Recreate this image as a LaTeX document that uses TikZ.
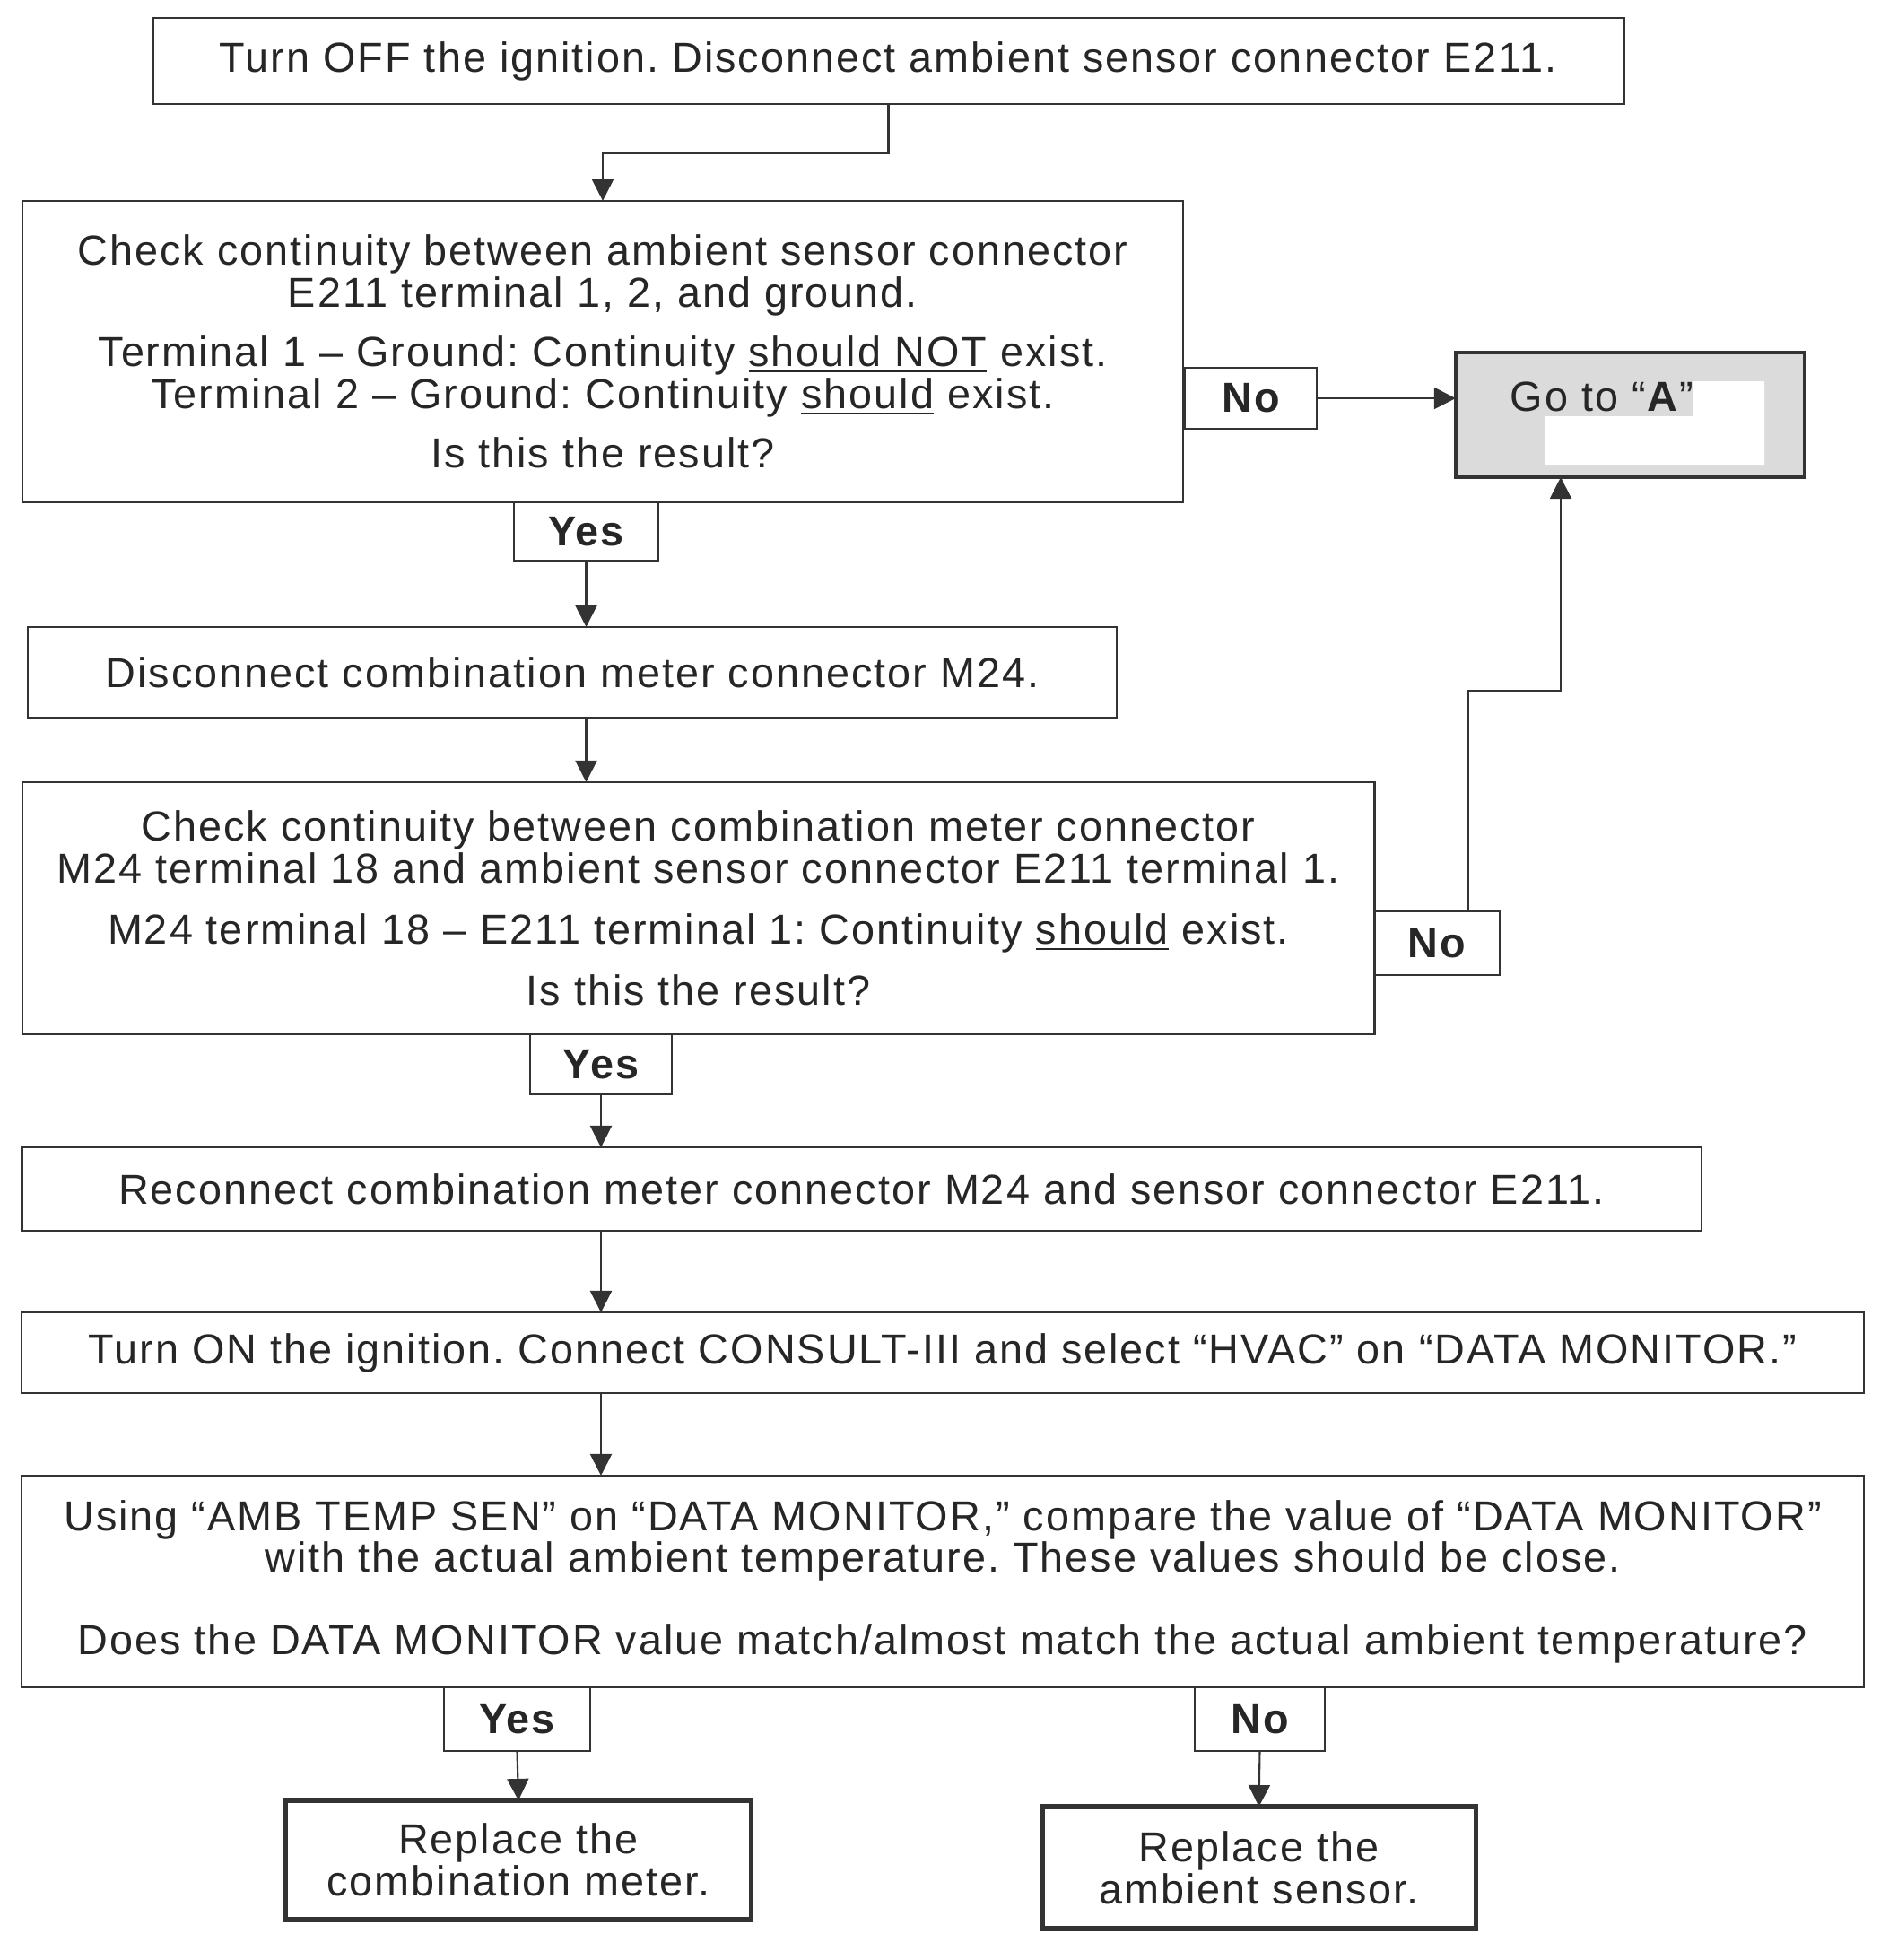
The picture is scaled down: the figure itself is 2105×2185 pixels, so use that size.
\documentclass[tikz,border=0pt]{standalone}
\usepackage{fontspec}
\setmainfont{Liberation Sans}[LetterSpace=4.3]
\usepackage{tikz}
\usetikzlibrary{arrows.meta,calc}
\definecolor{inkgray}{gray}{0.2}
\definecolor{boxfill}{gray}{0.86}
\frenchspacing
\begin{document}
\begin{tikzpicture}[x=0.01cm,y=-0.01cm,
  every node/.style={font=\fontsize{13.3pt}{13.3pt}\selectfont, text=black!85},
  box/.style={draw=inkgray, line width=0.6pt, inner sep=0pt, outer sep=0pt, align=center},
  endbox/.style={box, line width=1.5pt},
  answer/.style={box, font=\fontsize{13.3pt}{13.3pt}\selectfont\bfseries},
  flow/.style={draw=inkgray, line width=0.6pt, -{Triangle[length=0.24cm,width=0.24cm]}}]
\useasboundingbox (0,0) rectangle (2105,2185);
\node[box, minimum width=16.39cm, minimum height=0.96cm] (b1) at (990.5,68) {Turn OFF the ignition. Disconnect ambient sensor connector E211.};
\node[box, minimum width=12.94cm, minimum height=3.36cm] (b2) at (672,392) {Check continuity between ambient sensor connector\\E211 terminal 1, 2, and ground.\\[5.5pt]Terminal 1 – Ground: Continuity \underline{should NOT} exist.\\Terminal 2 – Ground: Continuity \underline{should} exist.\\[5.5pt]Is this the result?};
\node[answer, minimum width=1.47cm, minimum height=0.68cm] (no1) at (1394.5,444) {No};
\node[endbox, line width=1.3pt, fill=boxfill, minimum width=3.89cm, minimum height=1.39cm] (goA) at (1817.5,462.5) {};
\fill[white] (1888,425) -- (1967,425) -- (1967,518) -- (1723,518) -- (1723,464) -- (1888,464) -- cycle;
\node[anchor=west, inner sep=0pt] (goAtext) at (1683,442) {Go to “\textbf{A}”};
\node[answer, minimum width=1.61cm, minimum height=0.65cm] (yes1) at (653.5,592.5) {Yes};
\node[box, minimum width=12.14cm, minimum height=1.01cm] (b3) at (638,749.5) {Disconnect combination meter connector M24.};
\node[box, minimum width=15.07cm, minimum height=2.81cm] (b4) at (778.5,1012.5) {Check continuity between combination meter connector\\M24 terminal 18 and ambient sensor connector E211 terminal 1.\\[6pt]M24 terminal 18 – E211 terminal 1: Continuity \underline{should} exist.\\[6pt]Is this the result?};
\node[answer, minimum width=1.40cm, minimum height=0.71cm] (no2) at (1602,1051.5) {No};
\node[answer, minimum width=1.58cm, minimum height=0.67cm] (yes2) at (670,1186.5) {Yes};
\node[box, minimum width=18.71cm, minimum height=0.93cm] (b5) at (960.5,1325.5) {Reconnect combination meter connector M24 and sensor connector E211.};
\node[box, minimum width=20.52cm, minimum height=0.90cm] (b6) at (1051,1508) {Turn ON the ignition. Connect CONSULT-III and select “HVAC” on “DATA MONITOR.”};
\node[box, minimum width=20.52cm, minimum height=2.36cm] (b7) at (1051,1763) {Using “AMB TEMP SEN” on “DATA MONITOR,” compare the value of “DATA MONITOR”\\with the actual ambient temperature. These values should be close.\\[12.7pt]Does the DATA MONITOR value match/almost match the actual ambient temperature?};
\node[answer, minimum width=1.63cm, minimum height=0.71cm] (yes3) at (576.5,1916.5) {Yes};
\node[endbox, minimum width=5.18cm, minimum height=1.33cm] (b8) at (578,2073.5) {Replace the\\combination meter.};
\node[answer, minimum width=1.45cm, minimum height=0.71cm] (no3) at (1404.5,1916.5) {No};
\node[endbox, minimum width=4.83cm, minimum height=1.36cm] (b9) at (1403.5,2082) {Replace the\\ambient sensor.};
\coordinate (noup) at ($(no2.north west)!0.75!(no2.north east)$);
\coordinate (bend) at (1740,770);
\draw[flow] (b1.south) -- ++(0,55) -| (b2.north);
\draw[flow] (no1.east) -- (no1.east -| goA.west);
\draw[flow] (yes1.south) -- (b3.north -| yes1.south);
\draw[flow] (b3.south -| yes1.south) -- (b4.north -| yes1.south);
\draw[flow] (noup) |- (bend) -- (bend |- goA.south);
\draw[flow] (yes2.south) -- (b5.north -| yes2.south);
\draw[flow] (b5.south -| yes2.south) -- (b6.north -| yes2.south);
\draw[flow] (b6.south -| yes2.south) -- (b7.north -| yes2.south);
\draw[flow] (yes3.south) -- (b8.north);
\draw[flow] (no3.south) -- (b9.north);
\end{tikzpicture}
\end{document}
